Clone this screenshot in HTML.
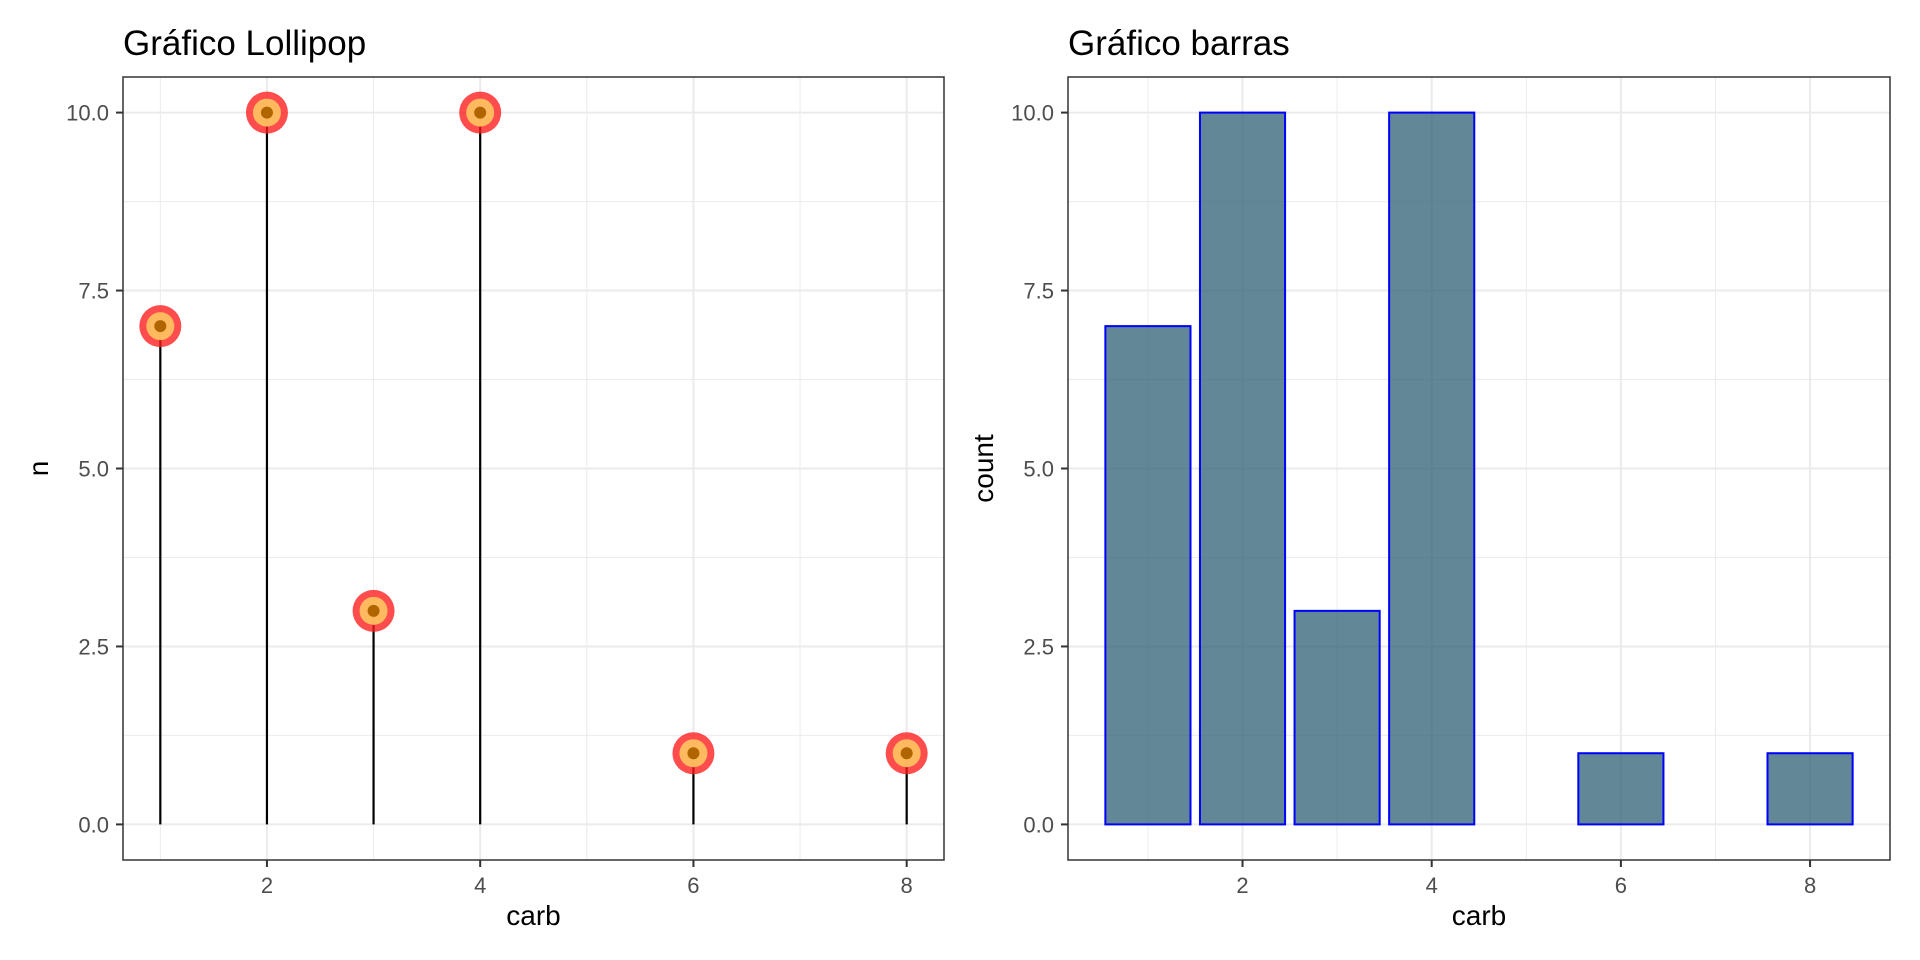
<!DOCTYPE html>
<html><head><meta charset="utf-8"><style>
html,body{margin:0;padding:0;background:#fff;}
svg{display:block;font-family:"Liberation Sans",Arial,sans-serif;}
</style></head><body>
<svg id="chart" width="1920" height="960" viewBox="0 0 1920 960"></svg>
<script>
const categories = [1, 2, 3, 4, 6, 8];
const counts = [7, 10, 3, 10, 1, 1];
const yTicks = [0, 2.5, 5, 7.5, 10];
const yTickLabels = ["0.0", "2.5", "5.0", "7.5", "10.0"];
const yMinor = [1.25, 3.75, 6.25, 8.75];
const xTicks = [2, 4, 6, 8];
const xTickLabels = ["2", "4", "6", "8"];
const xMinor = [1, 3, 5, 7];

const NS = "http://www.w3.org/2000/svg";
const svg = document.getElementById("chart");
function mk(tag, attrs, parent) {
  const e = document.createElementNS(NS, tag);
  for (const k in attrs) e.setAttribute(k, attrs[k]);
  (parent || svg).appendChild(e);
  return e;
}
const plotTop = 77, plotBottom = 860;
function yScale(v) { return plotBottom - (v + 0.5) / 11 * (plotBottom - plotTop); }

function panel(name, left, right, xmin, xmax, title, ytitle, drawMarks) {
  const g = mk("g", {});
  
  
  const xs = v => left + (v - xmin) / (xmax - xmin) * (right - left);
  yMinor.forEach(v => { mk("line", {x1: left, x2: right, y1: yScale(v), y2: yScale(v), stroke: "#ebebeb", "stroke-width": 1}, g); });
  xMinor.forEach(v => { mk("line", {x1: xs(v), x2: xs(v), y1: plotTop, y2: plotBottom, stroke: "#ebebeb", "stroke-width": 1}, g); });
  yTicks.forEach(v => { mk("line", {x1: left, x2: right, y1: yScale(v), y2: yScale(v), stroke: "#ebebeb", "stroke-width": 2}, g); });
  xTicks.forEach(v => { mk("line", {x1: xs(v), x2: xs(v), y1: plotTop, y2: plotBottom, stroke: "#ebebeb", "stroke-width": 2}, g); });
  drawMarks(g, xs);
  mk("rect", {x: left, y: plotTop, width: right - left, height: plotBottom - plotTop, fill: "none", stroke: "#333", "stroke-width": 1.5}, g);
  yTicks.forEach((v, i) => {
    mk("line", {x1: left - 7, x2: left, y1: yScale(v), y2: yScale(v), stroke: "#333", "stroke-width": 2}, g);
    const t = mk("text", {x: left - 14, y: yScale(v) + 8, "text-anchor": "end", "font-size": 22, fill: "#4d4d4d"}, g);
    t.textContent = yTickLabels[i];
    
    
  });
  xTicks.forEach((v, i) => {
    mk("line", {x1: xs(v), x2: xs(v), y1: plotBottom, y2: plotBottom + 7, stroke: "#333", "stroke-width": 2}, g);
    const t = mk("text", {x: xs(v), y: 893, "text-anchor": "middle", "font-size": 22, fill: "#4d4d4d"}, g);
    t.textContent = xTickLabels[i];
    
    
  });
  const xt = mk("text", {x: (left + right) / 2, y: 925, "text-anchor": "middle", "font-size": 28, fill: "#000"}, g);
  xt.textContent = "carb";
  
  
  const cy = (plotTop + plotBottom) / 2;
  const yt = mk("text", {x: left - 75, y: cy, "text-anchor": "middle", "font-size": 28, fill: "#000", transform: `rotate(-90 ${left - 75} ${cy})`}, g);
  yt.textContent = ytitle;
  
  
  const tt = mk("text", {x: left, y: 55, "font-size": 35, fill: "#000"}, g);
  tt.textContent = title;
  
  
}

panel("lollipop-panel", 123, 944, 0.65, 8.35, "Gráfico Lollipop", "n", (g, xs) => {
  categories.forEach((c, i) => {
    const x = xs(c), y = yScale(counts[i]);
    const s = mk("line", {x1: x, x2: x, y1: yScale(0), y2: y, stroke: "#000", "stroke-width": 2.2}, g);
    
    
    const o = mk("circle", {cx: x, cy: y, r: 21, fill: "#ff1a1a", "fill-opacity": 0.78}, g);
    
    
    mk("circle", {cx: x, cy: y, r: 14, fill: "#ffbf5f", "fill-opacity": 0.95}, g);
    mk("circle", {cx: x, cy: y, r: 6, fill: "#b06500"}, g);
  });
});

panel("bar-panel", 1068, 1890, 0.155, 8.845, "Gráfico barras", "count", (g, xs) => {
  categories.forEach((c, i) => {
    const x0 = xs(c - 0.45), x1 = xs(c + 0.45), y = yScale(counts[i]);
    const r = mk("rect", {x: x0, y: y, width: x1 - x0, height: yScale(0) - y, fill: "#265a70", "fill-opacity": 0.72, stroke: "#0000ff", "stroke-width": 2}, g);
    
    
  });
});
</script>
</body></html>
